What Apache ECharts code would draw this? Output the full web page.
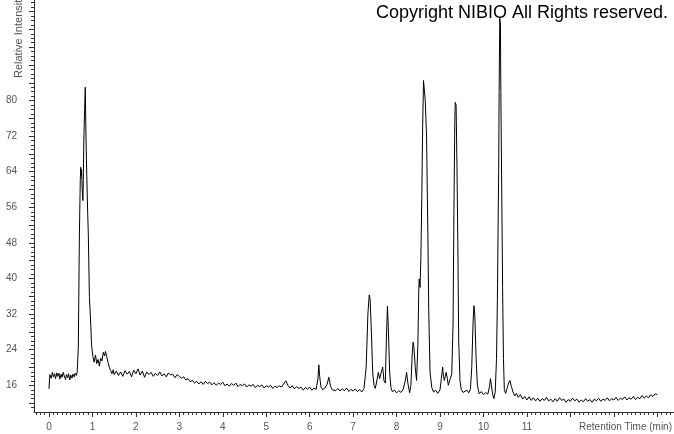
<!DOCTYPE html>
<html>
<head>
<meta charset="utf-8">
<script src="https://cdn.jsdelivr.net/npm/echarts@6/dist/echarts.min.js"></script>
<style>
html,body{margin:0;padding:0;background:#fff;}
#chart{width:674px;height:434px;}
</style>
</head>
<body>
<div id="chart"></div>
<script>
// Retention time (min)
var timeMin = [
 0.00,0.02,0.05,0.08,0.10,0.13,0.15,0.18,0.20,0.23,0.25,0.28,0.30,0.33,0.35,0.38,0.40,0.43,0.45,0.48,
 0.50,0.53,0.55,0.58,0.60,0.63,0.65,0.675,0.70,0.72,0.73,0.74,0.75,0.765,0.78,0.79,0.80,0.82,0.835,0.855,
 0.87,0.89,0.905,0.93,0.96,0.98,1.01,1.04,1.07,1.10,1.13,1.16,1.19,1.22,1.25,1.28,1.30,1.33,1.36,1.39,
 1.42,1.45,1.48,1.50,1.55,1.60,1.65,1.70,1.75,1.80,1.85,1.90,1.95,2.00,2.05,2.10,2.15,2.20,2.25,2.30,
 2.35,2.40,2.45,2.50,2.55,2.60,2.65,2.70,2.75,2.80,2.85,2.90,2.95,3.00,3.05,3.10,3.15,3.20,3.25,3.30,
 3.35,3.40,3.45,3.50,3.55,3.60,3.65,3.70,3.75,3.80,3.85,3.90,3.95,4.00,4.05,4.10,4.15,4.20,4.25,4.30,
 4.35,4.40,4.45,4.50,4.55,4.60,4.65,4.70,4.75,4.80,4.85,4.90,4.95,5.00,5.05,5.10,5.15,5.20,5.25,5.30,
 5.35,5.40,5.45,5.50,5.55,5.60,5.65,5.70,5.75,5.80,5.85,5.90,5.95,6.00,6.05,6.10,6.15,6.19,6.21,6.23,
 6.26,6.30,6.35,6.40,6.44,6.48,6.52,6.56,6.60,6.65,6.70,6.75,6.80,6.85,6.90,6.95,7.00,7.05,7.10,7.15,
 7.20,7.25,7.30,7.34,7.37,7.39,7.42,7.45,7.48,7.51,7.55,7.58,7.61,7.65,7.68,7.71,7.74,7.77,7.79,7.81,
 7.84,7.87,7.90,7.95,8.00,8.05,8.10,8.15,8.20,8.23,8.26,8.30,8.33,8.36,8.38,8.40,8.43,8.46,8.49,8.51,
 8.52,8.54,8.56,8.58,8.60,8.62,8.64,8.66,8.69,8.72,8.74,8.77,8.81,8.85,8.90,8.95,9.00,9.03,9.06,9.08,
 9.10,9.14,9.17,9.19,9.23,9.27,9.30,9.32,9.34,9.35,9.37,9.39,9.41,9.43,9.46,9.49,9.53,9.57,9.62,9.66,
 9.70,9.73,9.76,9.78,9.80,9.83,9.86,9.90,9.95,10.00,10.05,10.10,10.14,10.16,10.18,10.21,10.24,10.27,10.30,10.32,
 10.34,10.35,10.36,10.375,10.39,10.40,10.42,10.44,10.46,10.48,10.51,10.55,10.58,10.61,10.64,10.68,10.72,10.76,10.80,10.85,
 10.90,10.95,11.00,11.05,11.10,11.15,11.20,11.25,11.30,11.35,11.40,11.45,11.50,11.55,11.60,11.65,11.70,11.75,11.80,11.85,
 11.90,11.95,12.00,12.05,12.10,12.15,12.20,12.25,12.30,12.35,12.40,12.45,12.50,12.55,12.60,12.65,12.70,12.75,12.80,12.85,
 12.90,12.95,13.00,13.05,13.10,13.15,13.20,13.25,13.30,13.35,13.40,13.45,13.50,13.55,13.60,13.65,13.70,13.75,13.80,13.85,
 13.90,13.95,14.00
];
// Relative intensity
var intensity = [
 15.2,18.4,17.6,18.9,17.9,18.6,17.5,18.8,18.0,18.7,17.4,18.5,17.8,18.9,18.1,17.3,18.4,17.7,18.6,17.2,
 18.3,17.6,18.5,17.9,18.7,18.2,19.0,24.6,50.0,62.0,65.0,63.0,64.5,60.0,57.5,62.0,70.0,78.0,83.0,70.0,
 63.0,55.0,50.0,36.0,30.0,25.0,22.5,21.2,22.8,20.9,21.8,20.3,22.1,21.5,23.4,22.6,23.6,22.4,21.1,20.0,
 19.3,18.6,19.5,18.4,19.2,18.2,19.0,18.0,19.3,18.5,19.1,17.9,19.4,18.6,19.7,18.3,19.2,17.8,19.0,18.4,
 18.9,18.0,18.7,18.2,19.0,18.1,18.6,17.9,18.8,18.3,18.5,17.7,18.4,18.0,17.6,17.9,17.2,17.5,16.8,17.1,
 16.5,16.9,16.3,16.8,16.2,16.9,16.4,16.7,16.1,16.6,16.0,16.5,16.2,16.7,15.9,16.3,15.8,16.4,16.0,16.5,
 15.7,16.2,15.9,16.3,15.6,16.1,15.8,16.2,15.5,16.0,15.7,16.1,15.4,15.9,15.6,16.0,15.3,15.8,15.5,15.9,
 15.6,16.3,17.0,16.0,15.4,15.9,15.2,15.7,15.3,15.6,14.9,15.5,15.1,15.6,14.9,15.4,15.1,17.5,20.6,18.0,
 15.6,15.0,15.4,16.2,17.8,15.8,15.0,15.4,14.8,15.3,14.7,15.2,14.8,15.4,14.6,15.1,14.7,15.2,14.6,15.0,
 14.5,15.3,20.0,32.0,36.3,35.5,28.0,19.0,16.0,15.3,17.2,18.9,17.5,19.0,20.1,17.0,16.5,28.0,33.8,29.0,
 19.0,15.5,14.6,14.9,14.3,14.8,14.4,15.0,17.0,18.9,16.5,14.3,16.0,23.0,25.7,24.5,20.0,17.1,25.0,37.0,
 39.9,38.0,45.0,58.0,74.0,84.5,84.9,80.0,72.0,50.0,33.0,19.0,15.5,14.5,14.9,14.2,15.0,17.5,20.1,18.0,
 17.1,18.9,17.5,16.0,17.3,18.6,30.0,55.0,75.0,79.6,79.0,65.0,48.0,26.0,17.0,15.0,14.4,14.2,14.9,14.3,
 15.2,20.0,30.0,33.9,32.0,22.0,16.0,14.1,14.6,13.9,14.4,14.0,15.8,17.5,16.2,14.0,13.0,14.5,22.0,35.0,
 55.0,64.0,82.0,98.5,97.0,82.0,60.0,38.0,22.0,15.0,14.2,15.5,16.6,17.1,15.8,14.5,13.6,14.2,13.3,13.9,
 12.9,13.5,12.7,13.4,12.6,13.2,12.5,13.1,12.4,13.0,12.6,13.3,12.5,12.9,12.3,13.0,12.4,13.2,12.6,12.9,
 12.2,12.8,12.4,13.1,12.5,12.9,12.2,12.7,12.3,13.0,12.4,12.8,12.2,12.9,12.5,13.1,12.4,12.9,12.6,13.2,
 12.5,13.0,12.7,13.3,12.6,13.1,12.8,13.4,12.7,13.2,12.9,13.5,12.8,13.3,13.0,13.7,13.1,13.6,13.2,13.9,
 13.5,14.1,13.9
];
// Tick labels
var xTickLabels = [0,1,2,3,4,5,6,7,8,9,10,11];
var yTickLabels = [16,24,32,40,48,56,64,72,80];
var yMajorTicks = [12,16,20,24,28,32,36,40,44,48,52,56,60,64,68,72,76,80,84,88,92,96,100];

var X_MIN = -0.345, X_MAX = 14.385, Y_MIN = 10, Y_MAX = 102.6;

var xMinor = [];
for (var k = -3; k <= 143; k++) xMinor.push(Math.round(k) / 10);
var yMinor = [];
for (var j = 11; j <= 102; j++) yMinor.push(j);

var pts = timeMin.map(function (t, i) { return [t, intensity[i]]; });

var axisColor = '#333';
var labelColor = '#555';
var fontFam = '"Liberation Sans", Arial, sans-serif';

var chart = echarts.init(document.getElementById('chart'), null, { renderer: 'canvas' });
chart.setOption({
  animation: false,
  backgroundColor: '#fff',
  grid: { left: 34, right: 0, top: 0, bottom: 22, containLabel: false },
  xAxis: [{
    type: 'value', min: X_MIN, max: X_MAX, position: 'bottom',
    axisLine: { show: true, onZero: false, lineStyle: { color: axisColor, width: 1 } },
    axisTick: { show: true, inside: false, length: 5, customValues: xTickLabels.concat([12,13,14]), lineStyle: { color: axisColor } },
    axisLabel: { show: true, customValues: xTickLabels, margin: 10, color: labelColor, fontSize: 10, fontFamily: fontFam },
    splitLine: { show: false }
  }, {
    type: 'value', min: X_MIN, max: X_MAX, position: 'bottom', gridIndex: 0,
    axisLine: { show: false, onZero: false },
    axisTick: { show: true, inside: false, length: 3, customValues: xMinor, lineStyle: { color: axisColor } },
    axisLabel: { show: false },
    splitLine: { show: false }
  }],
  yAxis: [{
    type: 'value', min: Y_MIN, max: Y_MAX, position: 'left',
    axisLine: { show: true, onZero: false, lineStyle: { color: axisColor, width: 1 } },
    axisTick: { show: true, inside: false, length: 5, customValues: yMajorTicks, lineStyle: { color: axisColor } },
    axisLabel: { show: true, customValues: yTickLabels, margin: 17, color: labelColor, fontSize: 10, fontFamily: fontFam },
    splitLine: { show: false }
  }, {
    type: 'value', min: Y_MIN, max: Y_MAX, position: 'left', gridIndex: 0,
    axisLine: { show: false, onZero: false },
    axisTick: { show: true, inside: false, length: 3, customValues: yMinor, lineStyle: { color: axisColor } },
    axisLabel: { show: false },
    splitLine: { show: false }
  }],
  graphic: [
    { type: 'text', right: 6, top: 4, style: { text: 'Copyright NIBIO All Rights reserved.', font: '18px ' + fontFam, fill: '#000' }, z: 100 },
    { type: 'text', right: 2, top: 422, style: { text: 'Retention Time (min)', font: '10px ' + fontFam, fill: labelColor } },
    { type: 'text', x: 19, y: 78, rotation: Math.PI / 2, style: { text: 'Relative Intensity', font: '11px ' + fontFam, fill: labelColor, textAlign: 'left', textVerticalAlign: 'middle' } }
  ],
  series: [{
    type: 'line', data: pts, xAxisIndex: 0, yAxisIndex: 0,
    showSymbol: false, symbol: 'none', smooth: false,
    lineStyle: { color: '#000', width: 1 }, z: 10
  }]
});
</script>
</body>
</html>
